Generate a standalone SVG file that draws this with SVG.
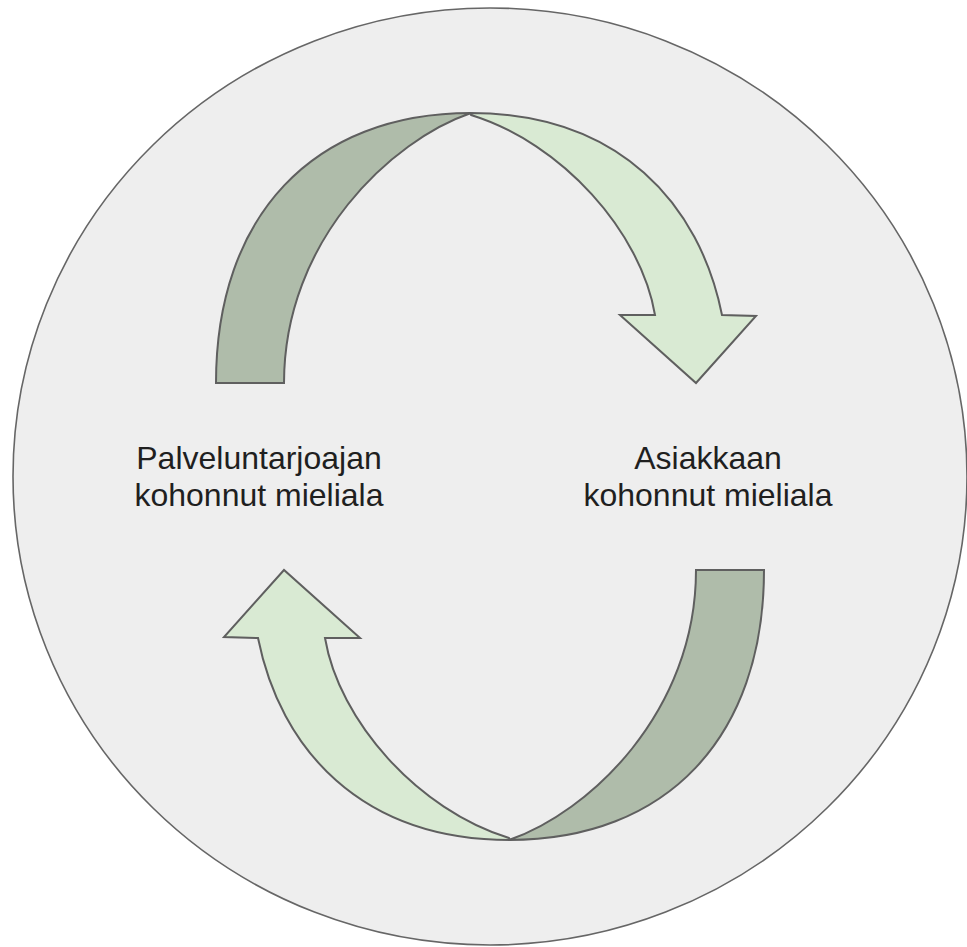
<svg xmlns="http://www.w3.org/2000/svg" xmlns:xlink="http://www.w3.org/1999/xlink" width="967" height="947" viewBox="0 0 967 947">
  <style>
    .bg { fill: #eeeeee; stroke: #666666; stroke-width: 1.6; }
    .band { fill: #afbcaa; stroke: #5f5f5f; stroke-width: 2; stroke-linejoin: miter; }
    .arrow { fill: #d9ead3; stroke: #5f5f5f; stroke-width: 2; stroke-linejoin: miter; }
    .label { font-family: "Liberation Sans", Arial, sans-serif; font-size: 32px; fill: #1f1f1f; text-anchor: middle; }
  </style>
  <defs>
    <!-- half of the loop: dark band rising, light arrow descending -->
    <g id="halfLoop">
      <path class="band" d="M216,383 C216,216 313,113 471,113 C392,140 284,240 284,383 Z"/>
      <path class="arrow" d="M470,113 C620,113 700,205 722,315 L756,316 L696,383 L620,315 L655,315 C641,232 562,143 471,115 Z"/>
    </g>
  </defs>

  <g id="background">
    <ellipse class="bg" cx="490" cy="476.5" rx="477" ry="468.5"/>
  </g>

  <g id="connectors">
    <use id="loop-top" xlink:href="#halfLoop"/>
    <use id="loop-bottom" xlink:href="#halfLoop" transform="rotate(180 490 476.5)"/>
  </g>

  <g id="node-provider">
    <text class="label" x="259" y="469">Palveluntarjoajan</text>
    <text class="label" x="259" y="506">kohonnut mieliala</text>
  </g>

  <g id="node-customer">
    <text class="label" x="708" y="469">Asiakkaan</text>
    <text class="label" x="708" y="506">kohonnut mieliala</text>
  </g>
</svg>
